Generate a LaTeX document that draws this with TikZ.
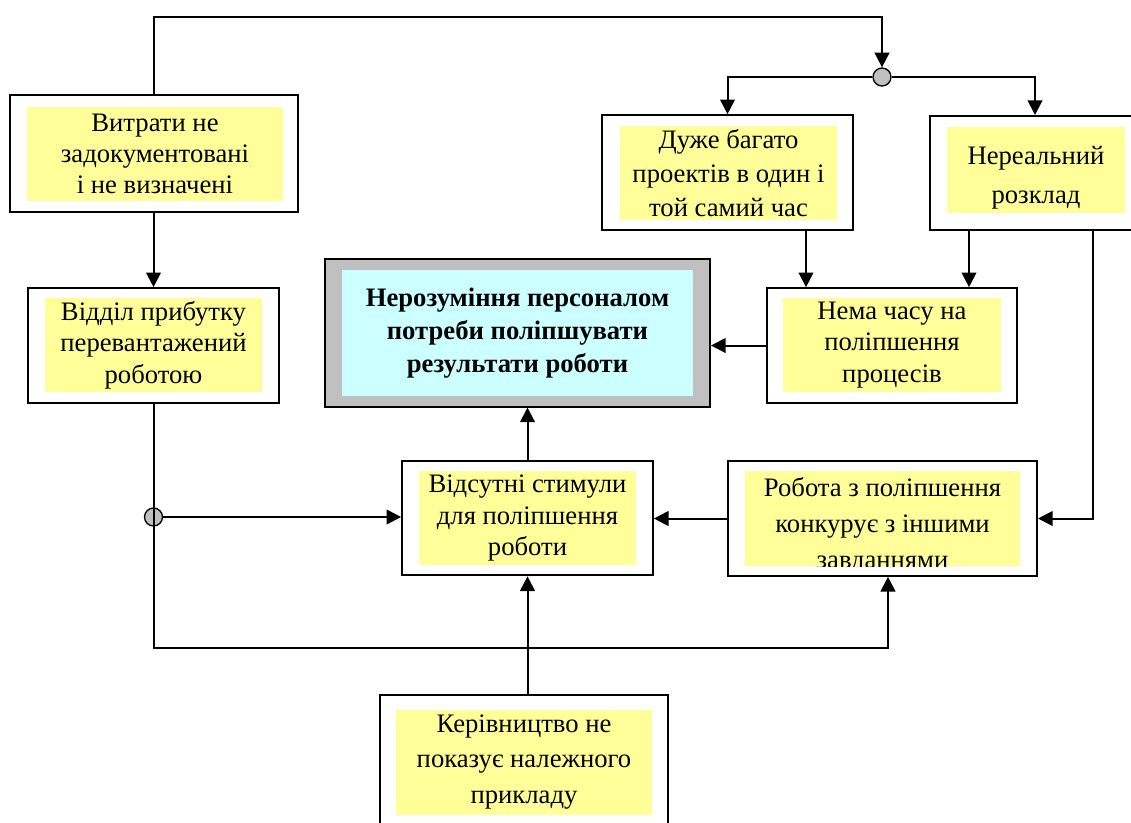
\documentclass[tikz,border=0pt]{standalone}
\usepackage{fontspec}
\setmainfont{Liberation Serif}
\usetikzlibrary{arrows.meta,calc,positioning}
\definecolor{notefill}{RGB}{255,255,153}
\definecolor{mainfill}{RGB}{204,255,255}
\definecolor{framegray}{RGB}{192,192,192}
\tikzset{
        block/.style = {draw, line width=1.5pt, fill=white, rectangle, minimum width=188pt, minimum height=86pt},
        note/.style = {fill=notefill, rectangle, align=center, inner sep=0pt, minimum width=163pt, minimum height=70.5pt, font=\fontsize{20}{23.5}\selectfont},
        notetext/.style = {align=center, inner sep=0pt, font=\fontsize{20}{27}\selectfont},
        mainblock/.style = {draw, line width=1.5pt, fill=framegray, rectangle, minimum width=288.75pt, minimum height=111pt},
        mainnote/.style = {fill=mainfill, rectangle, align=center, inner sep=0pt, minimum width=263.25pt, minimum height=94.5pt, font=\fontsize{20}{24.5}\selectfont\bfseries},
        junction/.style = {draw, line width=1pt, fill=framegray, circle, minimum size=13.5pt, inner sep=0pt},
        link/.style = {line width=1.5pt},
    }

\begin{document}
\begin{tikzpicture}[x=0.75pt, y=-0.75pt, >={Triangle[length=11pt, width=11pt]}]
    \useasboundingbox (0,0) rectangle (1131,822);
    \clip (0,0) rectangle (1131,822);

    % boxes
    \node [block, minimum width=216pt, minimum height=87.75pt] (costs) at (154,153.5) {};
    \node [note, minimum width=192pt] (costs-note) at (155,154) {Витрати не\\задокументовані\\і не визначені};

    \node [block] (profit) at (153.5,345.5) {};
    \node [note] (profit-note) at (153.5,345) {Відділ прибутку\\перевантажений\\роботою};

    \node [block] (projects) at (727.5,172.5) {};
    \node [note, font=\fontsize{20}{25.5}\selectfont] (projects-note) at (728.5,173) {Дуже багато\\проектів в один і\\той самий час};

    \node [block, minimum width=157.5pt, minimum height=85.5pt] (schedule) at (1035,173) {};
    \node [note, minimum width=133.5pt, minimum height=64.5pt] (schedule-note) at (1036,170) {};
    \node [notetext, font=\fontsize{20}{29}\selectfont] (schedule-text) at (1036,178) {Нереальний\\розклад};

    \node [mainblock] (problem) at (517.5,332.5) {};
    \node [mainnote] (problem-note) at (517.5,333) {Нерозуміння персоналом\\потреби поліпшувати\\результати роботи};

    \node [block] (notime) at (892,345.5) {};
    \node [note] (notime-note) at (892,345) {Нема часу на\\поліпшення\\процесів};

    \node [block] (nostimul) at (527.5,518) {};
    \node [note] (nostimul-note) at (527.5,518) {Відсутні стимули\\для поліпшення\\роботи};

    \node [block, minimum width=231.75pt] (compete) at (882.5,518.5) {};
    \node [note, minimum width=206.25pt, minimum height=71.25pt] (compete-note) at (882.5,518.5) {};
    \begin{scope}
        \clip (compete-note.south west) rectangle (compete-note.north east);
        \node [notetext] (compete-text) at (882.5,526) {Робота з поліпшення\\конкурує з іншими\\завданнями};
    \end{scope}

    \node [block, minimum width=216pt, minimum height=105pt] (leaders) at (524,765) {};
    \node [note, minimum width=192pt, minimum height=78.75pt, font=\fontsize{20}{26.5}\selectfont] (leaders-note) at (524,762) {Керівництво не\\показує належного\\прикладу};

    % junctions
    \node [junction] (split) at (882,77) {};
    \node [junction] (join) at (153.5,517) {};
    \coordinate (top) at (882,17);
    \coordinate (p1) at (806,230);
    \coordinate (p2) at (969,230);
    \coordinate (p3) at (1093,230);
    \coordinate (bottom) at (888,648);

    % connectors
    \draw [link,->] (costs.north) |- (top) -- (split);
    \draw [link,->] (split) -| (projects.north);
    \draw [link,->] (split) -| (schedule.north);
    \draw [link,->] (costs.south -| profit.north) -- (profit.north);
    \draw [link,->] (p1) -- (p1 |- notime.north);
    \draw [link,->] (p2) -- (p2 |- notime.north);
    \draw [link,->] (p3) |- (compete.east);
    \draw [link,->] (notime.west) -- (notime.west -| problem.east);
    \draw [link,->] (nostimul.north) -- (nostimul.north |- problem.south);
    \draw [link,->] (compete.west) -- (compete.west -| nostimul.east);
    \draw [link,->] (profit.south) |- (bottom) -- (bottom |- compete.south);
    \draw [link,->] (join) -- (join -| nostimul.west);
    \draw [link,->] (nostimul.south |- leaders.north) -- (nostimul.south);

\end{tikzpicture}
\end{document}
